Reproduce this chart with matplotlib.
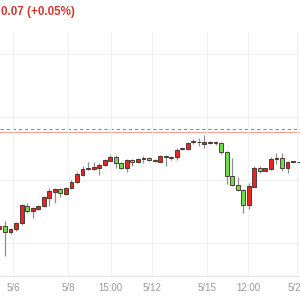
import matplotlib
matplotlib.use("Agg")
import matplotlib.pyplot as plt
import numpy as np

# ---- data ----
opens = [153.06, 153.18, 152.94, 153.06, 153.29, 153.97, 153.77, 153.85, 153.97, 154.29,
         154.52, 154.64, 154.45, 154.68, 154.92, 155.20, 155.42, 155.44, 155.48, 155.60,
         155.75, 155.91, 155.68, 155.48, 155.79, 155.72, 155.85, 155.87, 155.79, 155.73,
         155.97, 155.90, 155.90, 156.22, 156.23, 156.50, 156.52, 156.44, 156.47, 156.50,
         156.48, 156.12, 155.16, 154.80, 154.60, 154.01, 154.73, 155.49, 155.37, 155.43,
         155.82, 155.86, 155.46, 155.70, 155.70]
highs = [153.22, 153.37, 153.10, 153.33, 154.05, 154.09, 153.93, 154.01, 154.37, 154.68,
         154.68, 154.68, 154.72, 155.00, 155.32, 155.56, 155.72, 155.72, 155.68, 155.83,
         155.99, 155.99, 155.72, 155.83, 155.83, 155.87, 155.95, 155.91, 155.83, 155.99,
         155.99, 155.95, 156.27, 156.28, 156.52, 156.62, 156.67, 156.79, 156.55, 156.56,
         156.52, 156.15, 155.86, 155.11, 154.63, 154.87, 155.57, 155.56, 155.48, 155.93,
         156.06, 156.06, 155.75, 155.75, 155.72]
lows = [153.02, 151.99, 152.86, 152.98, 153.22, 153.69, 153.49, 153.81, 153.93, 153.97,
        154.09, 154.33, 154.41, 154.64, 154.88, 155.16, 155.40, 155.40, 155.20, 155.56,
        155.74, 155.48, 155.44, 155.32, 155.56, 155.68, 155.68, 155.75, 155.72, 155.72,
        155.57, 155.79, 155.79, 156.19, 156.19, 156.43, 156.35, 156.26, 156.43, 156.39,
        156.02, 154.83, 154.76, 154.58, 153.68, 153.85, 154.71, 155.27, 155.36, 155.40,
        155.64, 155.36, 155.29, 155.68, 155.68]
closes = [153.18, 152.94, 153.06, 153.29, 154.01, 153.77, 153.89, 153.97, 154.33, 154.56,
          154.64, 154.49, 154.68, 154.92, 155.24, 155.44, 155.46, 155.50, 155.60, 155.79,
          155.91, 155.68, 155.48, 155.79, 155.72, 155.83, 155.86, 155.79, 155.75, 155.95,
          155.90, 155.87, 156.19, 156.26, 156.47, 156.54, 156.50, 156.52, 156.51, 156.47,
          156.12, 155.16, 154.80, 154.60, 154.01, 154.76, 155.49, 155.36, 155.46, 155.83,
          155.86, 155.46, 155.72, 155.74, 155.72]

tick_labels = ["5/6", "5/8", "15:00", "5/12", "5/15", "12:00", "5/20"]
tick_pos = [2.5, 12.37, 20.08, 27.6, 37.5, 44.9, 53.65]
prev_close = 157.01
ref_line = 156.92
title_text = "0.07 (+0.05%)"

# ---- figure ----
fig = plt.figure(figsize=(3, 3), dpi=100)
ax = fig.add_axes([0, 0.08, 1, 0.8133])

UP = "#e5281d"
DOWN = "#72db4c"
EDGE = "#3b2a2a"
WICK = "#8f8f8f"

x = np.arange(len(opens))
o = np.array(opens); c = np.array(closes); h = np.array(highs); l = np.array(lows)
colors = [UP if cc >= oo else DOWN for oo, cc in zip(o, c)]

ax.vlines(x, l, h, color=WICK, linewidth=0.9, zorder=2)
bottom = np.minimum(o, c)
height = np.maximum(np.abs(c - o), 0.025)
ax.bar(x, height, bottom=bottom, width=0.7, color=colors, edgecolor=EDGE,
       linewidth=0.6, zorder=3)

ax.axhline(prev_close, color="#8c8c8c", linestyle=(0, (3, 2.5)), linewidth=0.8, zorder=1)
ax.axhline(ref_line, color="#f2a29d", linewidth=0.8, zorder=1)

ax.set_xlim(0.0975, 54.25)
ax.set_ylim(151.19, 160.87)
ax.set_yticks([152.5, 155.0, 157.5, 160.0])
ax.set_yticklabels([])
ax.set_xticks(tick_pos)
ax.set_xticklabels(tick_labels, color="#9a9a9a", fontsize=7.0, family="Liberation Sans")
ax.tick_params(axis="both", length=0, pad=5)
ax.tick_params(axis="y", left=False, labelleft=False)
ax.grid(True, color="#f1f1f1", linewidth=0.8, zorder=0)
for s in ["top", "left", "right"]:
    ax.spines[s].set_visible(False)
ax.spines["bottom"].set_color("#e6e6e6")
ax.spines["bottom"].set_linewidth(0.8)

fig.text(0.003, 0.96, title_text, color="#d23a30", fontsize=8.4, fontweight="bold",
         ha="left", va="center", family="Liberation Sans")

fig.savefig("out.png", dpi=100)
